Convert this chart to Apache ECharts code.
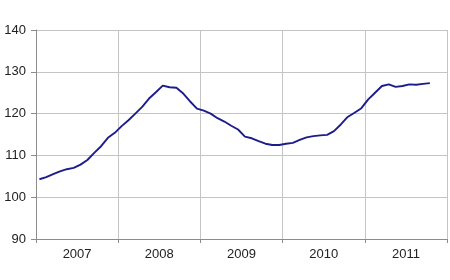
<!DOCTYPE html>
<html>
<head>
<meta charset="utf-8">
<script src="https://cdn.jsdelivr.net/npm/echarts@6/dist/echarts.min.js"></script>
<style>html,body{margin:0;padding:0;background:#fff}#c{width:450px;height:280px}</style>
</head>
<body>
<div id="c"></div>
<script>
var years = ['2007', '2008', '2009', '2010', '2011'];
var yTicks = [90, 100, 110, 120, 130, 140];
var values = [
  104.3, 104.8, 105.5, 106.2, 106.7, 107.0, 107.8, 108.9, 110.6, 112.2, 114.2, 115.4,
  117.0, 118.4, 120.0, 121.6, 123.6, 125.1, 126.7, 126.3, 126.2, 124.8, 122.9, 121.2,
  120.7, 120.0, 118.9, 118.1, 117.1, 116.2, 114.5, 114.1, 113.4, 112.8, 112.5, 112.5,
  112.8, 113.0, 113.7, 114.3, 114.6, 114.8, 114.9, 115.8, 117.4, 119.2, 120.2, 121.3,
  123.4, 125.0, 126.6, 127.0, 126.4, 126.6, 127.0, 126.9, 127.1, 127.3
];
var months = [];
for (var y = 0; y < years.length; y++) {
  for (var m = 1; m <= 12; m++) months.push(years[y] + '-' + m);
}
var chart = echarts.init(document.getElementById('c'), null, {renderer: 'canvas'});
chart.setOption({
  animation: false,
  grid: {left: 36, right: 3, top: 30, bottom: 41},
  xAxis: [
    {
      type: 'category', data: months, boundaryGap: true, position: 'bottom',
      axisLine: {show: false}, axisTick: {show: false}, axisLabel: {show: false}, splitLine: {show: false}
    },
    {
      type: 'category', data: years, boundaryGap: true, position: 'bottom',
      axisLine: {show: true, lineStyle: {color: '#8c8c8c', width: 1}},
      axisTick: {show: true, length: 4, lineStyle: {color: '#8c8c8c'}},
      axisLabel: {color: '#222', fontSize: 13, fontFamily: 'Liberation Sans, Arial, sans-serif', margin: 9},
      splitLine: {show: true, lineStyle: {color: '#c4c4c4', width: 1}}
    }
  ],
  yAxis: {
    type: 'value', min: yTicks[0], max: yTicks[yTicks.length - 1], interval: 10,
    axisLine: {show: true, lineStyle: {color: '#8c8c8c', width: 1}},
    axisTick: {show: true, length: 5, lineStyle: {color: '#8c8c8c'}},
    axisLabel: {color: '#222', fontSize: 13, fontFamily: 'Liberation Sans, Arial, sans-serif', margin: 10},
    splitLine: {show: true, lineStyle: {color: '#c4c4c4', width: 1}}
  },
  series: [{
    type: 'line', xAxisIndex: 0, data: values, showSymbol: false, smooth: false,
    lineStyle: {color: '#1c1c8a', width: 1.9}
  }]
});
</script>
</body>
</html>
